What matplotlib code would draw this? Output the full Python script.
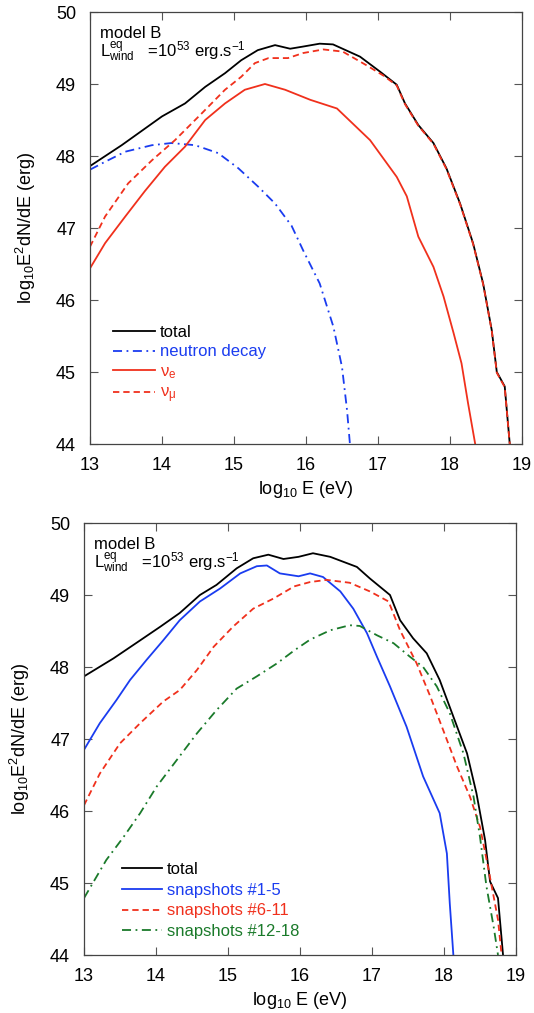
import matplotlib
matplotlib.use("Agg")
import matplotlib.pyplot as plt

plt.rcParams['font.family'] = ['Liberation Sans', 'DejaVu Sans']
plt.rcParams['mathtext.fontset'] = 'custom'
plt.rcParams['mathtext.rm'] = 'Liberation Sans'
plt.rcParams['mathtext.it'] = 'Liberation Sans'
plt.rcParams['mathtext.bf'] = 'Liberation Sans:bold'

# ---------------- top panel data ----------------
top_total_E = [13.0, 13.44, 14.0, 14.32, 14.6, 14.875, 15.1, 15.33, 15.57, 15.78, 15.96, 16.19,
               16.375, 16.75, 17.03, 17.26, 17.375, 17.56, 17.77, 17.95, 18.14, 18.32, 18.46,
               18.58, 18.65, 18.76, 18.83]
top_total_v = [47.86, 48.15, 48.55, 48.73, 48.96, 49.15, 49.33, 49.47, 49.54, 49.49, 49.52, 49.56,
               49.55, 49.38, 49.17, 48.99, 48.73, 48.43, 48.18, 47.83, 47.34, 46.79, 46.23,
               45.58, 45.0, 44.8, 44.0]

top_numu_E = [13.0, 13.21, 13.53, 13.86, 14.18, 14.55, 14.875, 15.1, 15.29, 15.48, 15.75, 15.96,
              16.24, 16.51, 16.84, 17.07, 17.26, 17.375, 17.56, 17.77, 17.95, 18.14, 18.32,
              18.46, 18.58, 18.65, 18.76, 18.83]
top_numu_v = [46.74, 47.16, 47.62, 47.94, 48.22, 48.59, 48.92, 49.10, 49.29, 49.36, 49.36, 49.43,
              49.48, 49.45, 49.26, 49.12, 48.98, 48.72, 48.42, 48.17, 47.82, 47.33, 46.78,
              46.22, 45.57, 44.99, 44.79, 44.0]

top_nue_E = [13.0, 13.21, 13.49, 13.76, 14.04, 14.32, 14.6, 14.875, 15.15, 15.43, 15.71, 15.96,
             16.06, 16.43, 16.89, 17.26, 17.40, 17.56, 17.77, 17.91, 18.05, 18.16, 18.25, 18.35]
top_nue_v = [46.44, 46.79, 47.16, 47.51, 47.85, 48.13, 48.50, 48.73, 48.92, 49.0, 48.92, 48.82,
             48.78, 48.66, 48.22, 47.71, 47.44, 46.88, 46.46, 46.05, 45.54, 45.12, 44.57, 44.0]

top_neut_E = [13.0, 13.21, 13.49, 13.86, 14.13, 14.46, 14.78, 15.06, 15.34, 15.57, 15.80, 15.96,
              16.19, 16.38, 16.50, 16.57, 16.61]
top_neut_v = [47.81, 47.92, 48.06, 48.15, 48.18, 48.15, 48.04, 47.83, 47.57, 47.34, 47.03, 46.69,
              46.23, 45.63, 45.07, 44.47, 44.0]

# ---------------- bottom panel data ----------------
bot_total_E = [13.0, 13.41, 13.78, 14.06, 14.33, 14.61, 14.84, 15.12, 15.35, 15.56, 15.77, 15.98,
               16.18, 16.42, 16.79, 16.97, 17.25, 17.39, 17.57, 17.76, 17.94, 18.13, 18.32,
               18.45, 18.57, 18.64, 18.75, 18.82]
bot_total_v = [47.87, 48.12, 48.37, 48.56, 48.75, 49.0, 49.14, 49.37, 49.51, 49.56, 49.50, 49.53,
               49.58, 49.53, 49.39, 49.23, 49.0, 48.65, 48.40, 48.19, 47.82, 47.31, 46.80,
               46.25, 45.60, 45.02, 44.79, 44.0]

bot_s1_E = [13.0, 13.22, 13.45, 13.64, 13.87, 14.10, 14.33, 14.61, 14.89, 15.17, 15.40, 15.54,
            15.72, 15.98, 16.14, 16.32, 16.56, 16.74, 16.93, 17.07, 17.25, 17.48, 17.71, 17.94,
            18.04, 18.08, 18.13]
bot_s1_v = [46.85, 47.22, 47.54, 47.82, 48.10, 48.37, 48.65, 48.91, 49.09, 49.30, 49.40, 49.41,
            49.30, 49.26, 49.30, 49.25, 49.05, 48.81, 48.47, 48.14, 47.73, 47.17, 46.48, 45.97,
            45.41, 44.72, 44.0]

bot_s2_E = [13.0, 13.22, 13.5, 13.78, 14.10, 14.33, 14.57, 14.80, 15.07, 15.35, 15.63, 15.92,
            16.14, 16.37, 16.69, 16.97, 17.23, 17.39, 17.62, 17.81, 17.99, 18.18, 18.36, 18.5,
            18.62, 18.69, 18.75, 18.80]
bot_s2_v = [46.08, 46.52, 46.94, 47.22, 47.52, 47.68, 47.96, 48.28, 48.56, 48.81, 48.95, 49.12,
            49.18, 49.21, 49.17, 49.05, 48.91, 48.51, 48.05, 47.59, 47.12, 46.62, 46.20, 45.78,
            45.18, 44.81, 44.49, 44.0]

bot_s3_E = [13.0, 13.31, 13.55, 13.78, 14.01, 14.29, 14.57, 14.84, 15.12, 15.40, 15.68, 15.92,
            16.14, 16.42, 16.69, 16.83, 17.07, 17.30, 17.53, 17.71, 17.90, 18.08, 18.27, 18.41,
            18.5, 18.59, 18.69, 18.75]
bot_s3_v = [44.79, 45.32, 45.64, 45.97, 46.34, 46.71, 47.08, 47.40, 47.70, 47.87, 48.05, 48.23,
            48.38, 48.51, 48.58, 48.57, 48.44, 48.33, 48.14, 48.0, 47.73, 47.36, 46.80, 46.20,
            45.64, 44.95, 44.39, 44.0]

xticks = [13, 14, 15, 16, 17, 18, 19]
yticks = [44, 45, 46, 47, 48, 49, 50]

BLACK = '#000000'
BLUE = '#1a3cf0'
RED = '#f0301c'
GREEN = '#1a7a2a'

W, H = 534, 1013
fig = plt.figure(figsize=(W / 100, H / 100), dpi=100)
ax1 = fig.add_axes([90 / W, (H - 444) / H, 432 / W, 432 / H])
ax2 = fig.add_axes([84 / W, (H - 955) / H, 432 / W, 432 / H])

lw = 1.3
ax1.plot(top_total_E, top_total_v, color=BLACK, lw=lw, label='total')
ax1.plot(top_neut_E, top_neut_v, color=BLUE, lw=lw, dashes=(5, 2.5, 1, 2.5), label='neutron decay')
ax1.plot(top_nue_E, top_nue_v, color=RED, lw=lw, label=r'$\mathregular{\nu_e}$')
ax1.plot(top_numu_E, top_numu_v, color=RED, lw=lw, dashes=(3.5, 2.2), label=r'$\mathregular{\nu_\mu}$')

ax2.plot(bot_total_E, bot_total_v, color=BLACK, lw=lw, label='total')
ax2.plot(bot_s1_E, bot_s1_v, color=BLUE, lw=lw, label='snapshots #1-5')
ax2.plot(bot_s2_E, bot_s2_v, color=RED, lw=lw, dashes=(3.5, 2.2), label='snapshots #6-11')
ax2.plot(bot_s3_E, bot_s3_v, color=GREEN, lw=lw, dashes=(5, 2.5, 1, 2.5), label='snapshots #12-18')

legend_cfg = (
    (ax1, (0.053, 0.276), 2.5, 0.28),
    (ax2, (0.088, 0.216), 2.4, 0.35),
)
for ax, leg_xy, hl, ls in legend_cfg:
    ax.set_xlim(13, 19)
    ax.set_ylim(44, 50)
    ax.set_xticks(xticks)
    ax.set_yticks(yticks)
    ax.tick_params(direction='in', length=6, width=0.8, color='#555555',
                   top=True, right=True, labelsize=13)
    ax.tick_params(axis='y', pad=10)
    ax.tick_params(axis='x', pad=9)
    for s in ax.spines.values():
        s.set_color('#444444')
        s.set_linewidth(0.9)
    ax.set_xlabel(r'log$_{10}$ E (eV)', fontsize=13, labelpad=4)
    ax.set_ylabel(r'log$_{10}$E$^2$dN/dE (erg)', fontsize=13, labelpad=13)
    ax.text(0.022, 0.94, 'model B', transform=ax.transAxes, fontsize=12, va='baseline')
    ax.text(0.022, 0.895, r'L$^{\mathregular{eq}}_{\mathregular{wind}}$   =10$^{53}$ erg.s$^{-1}$',
            transform=ax.transAxes, fontsize=12, va='baseline')
    ax.legend(loc='upper left', bbox_to_anchor=leg_xy, frameon=False, fontsize=12,
              handlelength=hl, handletextpad=0.3, labelspacing=ls,
              borderpad=0, borderaxespad=0, labelcolor='linecolor')

fig.savefig('out.png', dpi=100)
